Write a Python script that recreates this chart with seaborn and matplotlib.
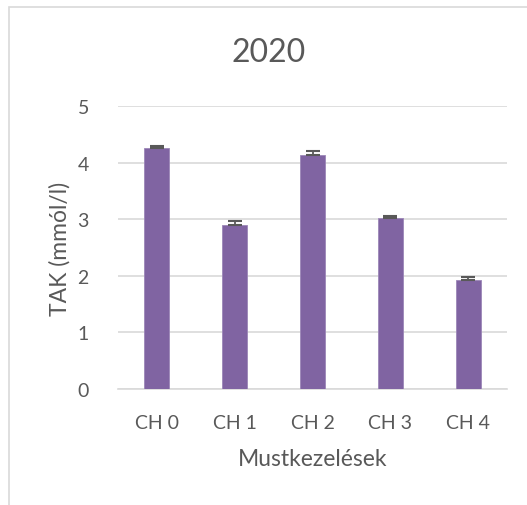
import matplotlib
matplotlib.use("Agg")
import matplotlib.pyplot as plt
import seaborn as sns
import pandas as pd
import numpy as np
from matplotlib.patches import Rectangle

categories = ["CH 0", "CH 1", "CH 2", "CH 3", "CH 4"]
values = [4.25, 2.89, 4.13, 3.03, 1.92]
errors = [0.05, 0.07, 0.07, 0.035, 0.05]
yticks = [0, 1, 2, 3, 4, 5]

title = "2020"
xlabel = "Mustkezelések"
ylabel = "TAK (mmól/l)"

sns.set_theme(style="white")
plt.rcParams["font.family"] = ["Lato", "DejaVu Sans"]

TXT = "#595959"
GRID = "#d9d9d9"
BAR = "#8064a2"

df = pd.DataFrame({"cat": categories, "val": values})

fig = plt.figure(figsize=(5.27, 5.06), dpi=100)
ax = fig.add_axes([118/527, 1-390/506, (507-118)/527, (390-107)/506])

sns.barplot(data=df, x="cat", y="val", color=BAR, saturation=1, width=0.32,
            edgecolor="#9c86b8", linewidth=0.6, errorbar=None, ax=ax, zorder=3)

pos = np.arange(len(categories))
ax.errorbar(pos, values, yerr=[np.zeros(len(errors)), errors], fmt="none",
            ecolor=TXT, elinewidth=1.3, capsize=4.7, capthick=1.5, zorder=4)

ax.set_ylim(0, 5)
ax.set_yticks(yticks)
ax.set_xlim(-0.5, len(categories) - 0.5)
ax.yaxis.grid(True, color=GRID, linewidth=1.2, zorder=0)
ax.set_axisbelow(True)
for s in ["top", "right", "left"]:
    ax.spines[s].set_visible(False)
ax.spines["bottom"].set_color(GRID)
ax.spines["bottom"].set_linewidth(1.2)
ax.tick_params(axis="both", length=0, colors=TXT, labelsize=14)
ax.tick_params(axis="y", pad=21)
ax.tick_params(axis="x", pad=18)

ax.set_xlabel(xlabel, color=TXT, fontsize=16.5, labelpad=12)
ax.set_ylabel(ylabel, color=TXT, fontsize=16.5, labelpad=5)
fig.text(269/527, 1-53/506, title, ha="center", va="center", color=TXT, fontsize=23)

fig.patches.append(Rectangle((9/527, -0.1), 1.2, 1-8/506+0.1, transform=fig.transFigure,
                             fill=False, edgecolor=GRID, linewidth=1.2))

fig.savefig("out.png", dpi=100, facecolor="white")
